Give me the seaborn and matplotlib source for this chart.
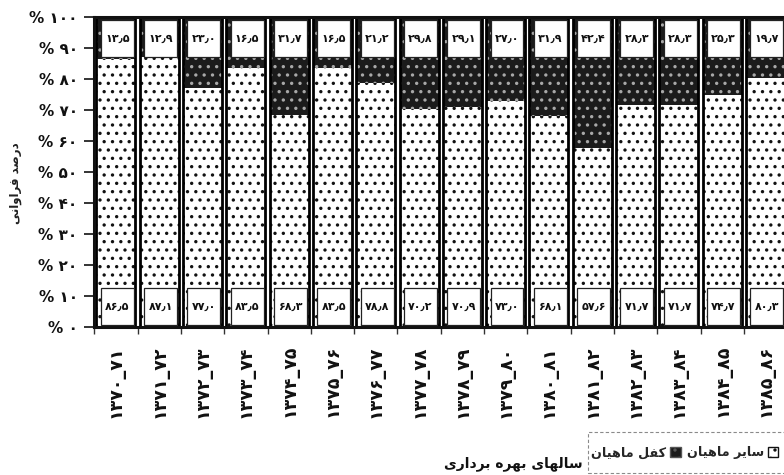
import matplotlib
matplotlib.use("Agg")
import matplotlib.pyplot as plt
from matplotlib.patches import Rectangle, Patch
from matplotlib.ticker import FixedLocator
import numpy as np
import pandas as pd
import seaborn as sns

# Harvest seasons (Persian calendar) and catch composition in percent
seasons = ["1370_71", "1371_72", "1372_73", "1373_74", "1374_75", "1375_76",
           "1376_77", "1377_78", "1378_79", "1379_80", "1380_81", "1381_82",
           "1382_83", "1383_84", "1384_85", "1385_86"]
other_fish = [86.5, 87.1, 77.0, 83.5, 68.3, 83.5, 78.8, 70.2,
              70.9, 73.0, 68.1, 57.6, 71.7, 71.7, 74.7, 80.3]
mullet = [13.5, 12.9, 23.0, 16.5, 31.7, 16.5, 21.2, 29.8,
          29.1, 27.0, 31.9, 42.4, 28.3, 28.3, 25.3, 19.7]
y_ticks = [0, 10, 20, 30, 40, 50, 60, 70, 80, 90, 100]

# --- Persian text helpers -------------------------------------------------
FA_DIGITS = str.maketrans("0123456789.", "۰۱۲۳۴۵۶۷۸۹٫")

# isolated, final, initial, medial presentation forms
FORMS = {
    "ا": ("\uFE8D", "\uFE8E", None, None),
    "ب": ("\uFE8F", "\uFE90", "\uFE91", "\uFE92"),
    "د": ("\uFEA9", "\uFEAA", None, None),
    "ر": ("\uFEAD", "\uFEAE", None, None),
    "س": ("\uFEB1", "\uFEB2", "\uFEB3", "\uFEB4"),
    "ص": ("\uFEB9", "\uFEBA", "\uFEBB", "\uFEBC"),
    "ف": ("\uFED1", "\uFED2", "\uFED3", "\uFED4"),
    "ک": ("\uFED9", "\uFEDA", "\uFEDB", "\uFEDC"),
    "ل": ("\uFEDD", "\uFEDE", "\uFEDF", "\uFEE0"),
    "م": ("\uFEE1", "\uFEE2", "\uFEE3", "\uFEE4"),
    "ن": ("\uFEE5", "\uFEE6", "\uFEE7", "\uFEE8"),
    "ه": ("\uFEE9", "\uFEEA", "\uFEEB", "\uFEEC"),
    "و": ("\uFEED", "\uFEEE", None, None),
    "ی": ("\uFEEF", "\uFEF0", "\uFEF3", "\uFEF4"),
}


def fa(text):
    """Join Persian letters into contextual forms and return them in visual order."""
    out = []
    for i, c in enumerate(text):
        if c not in FORMS:
            out.append(c)
            continue
        prev = text[i - 1] if i > 0 else ""
        nxt = text[i + 1] if i + 1 < len(text) else ""
        join_prev = prev in FORMS and FORMS[prev][2] is not None
        join_next = FORMS[c][2] is not None and nxt in FORMS
        iso, fin, ini, med = FORMS[c]
        if join_prev and join_next:
            out.append(med)
        elif join_prev:
            out.append(fin)
        elif join_next:
            out.append(ini)
        else:
            out.append(iso)
    return "".join(reversed(out))


def fa_num(s):
    return str(s).translate(FA_DIGITS)


# --- data frame -----------------------------------------------------------
df = pd.DataFrame({
    "season": [fa_num(s) for s in seasons],
    "other": other_fish,
    "mullet": mullet,
})
df["total"] = df["other"] + df["mullet"]

sns.set_theme(style="white")
plt.rcParams["font.family"] = ["DejaVu Sans"]
plt.rcParams["font.weight"] = "bold"
plt.rcParams["hatch.linewidth"] = 1.2

fig = plt.figure(figsize=(7.84, 4.75), dpi=100)
fig.patch.set_facecolor("white")
ax = fig.add_axes([0.1203, 0.3116, 0.8837, 0.6526])
ax.set_facecolor("white")

bar_w = 0.9
# mullet share: dark segment filling up to the total
sns.barplot(data=df, x="season", y="total", color="#1b1b1b", saturation=1,
            edgecolor="#a8a8a8", linewidth=0, hatch="..", width=bar_w,
            errorbar=None, ax=ax)
# other fish share: light dotted segment from the base
sns.barplot(data=df, x="season", y="other", color="white", saturation=1,
            edgecolor="#111111", linewidth=0, hatch="..", width=bar_w,
            errorbar=None, ax=ax)
# bar outlines
sns.barplot(data=df, x="season", y="total", color="black", fill=False,
            linewidth=2.0, width=bar_w, errorbar=None, ax=ax)

# value boxes
box_w = 0.76
for i, (o, m) in enumerate(zip(df["other"], df["mullet"])):
    for y0, val in ((0.6, o), (87.0, m)):
        ax.add_patch(Rectangle((i - box_w / 2 + 0.03, y0), box_w, 12.0,
                               facecolor="white", edgecolor="#222222",
                               linewidth=0.9, zorder=5))
        ax.text(i + 0.03, y0 + 6.0, fa_num(f"{val:.1f}"), ha="center",
                va="center", fontsize=8, fontweight="bold", color="#111111",
                zorder=6)

n = len(df)
ax.set_xlim(-0.5, n - 0.5)
ax.set_ylim(0, 100)

ax.set_yticks(y_ticks)
ax.set_yticklabels(["% " + fa_num(t) for t in y_ticks], fontsize=11,
                   fontweight="bold", color="#111111")
ax.tick_params(axis="y", direction="out", length=7, width=1.2, pad=5,
               left=True, colors="#111111")

ax.xaxis.set_minor_locator(FixedLocator(np.arange(-0.5, n, 1.0)))
ax.tick_params(axis="x", which="major", length=0, pad=13)
ax.tick_params(axis="x", which="minor", direction="out", length=5, width=1,
               bottom=True, color="#333333")
for lab in ax.get_xticklabels():
    lab.set_rotation(90)
    lab.set_fontsize(12.5)
    lab.set_fontweight("bold")
    lab.set_color("#111111")
    lab.set_va("top")
    lab.set_ha("center")

ax.set_xlabel("")
ax.set_ylabel("")
for side in ("left", "bottom", "top"):
    ax.spines[side].set_visible(True)
    ax.spines[side].set_color("#111111")
    ax.spines[side].set_linewidth(2.2)
ax.spines["right"].set_visible(False)

fig.text(0.02, 0.615, fa("درصد فراوانی"), rotation=90, ha="center",
         va="center", fontsize=8.5, fontweight="bold", color="#222222")
fig.text(0.743, 0.024, fa("سالهای بهره برداری"), ha="right", va="center",
         fontsize=10, fontweight="bold", color="#111111")

# legend: dashed box running off the right edge, entries centred inside
fig.add_artist(Rectangle((0.75, 0.004), 0.27, 0.087,
                         transform=fig.transFigure, facecolor="white",
                         edgecolor="#8a8a8a", linewidth=0.8,
                         linestyle=(0, (3, 2)), zorder=3))
handles = [
    Patch(facecolor="#1b1b1b", edgecolor="#555555", hatch="..",
          label=fa("کفل ماهیان")),
    Patch(facecolor="white", edgecolor="#111111", hatch="..",
          label=fa("سایر ماهیان")),
]
leg = fig.legend(handles=handles, loc="center left",
                 bbox_to_anchor=(0.751, 0.047), bbox_transform=fig.transFigure,
                 ncol=2, markerfirst=False, frameon=False,
                 handlelength=0.8, handleheight=0.8, handletextpad=0.3,
                 columnspacing=0.5, borderpad=0.2, borderaxespad=0,
                 fontsize=9.2)
leg.set_zorder(4)
for t in leg.get_texts():
    t.set_fontweight("bold")

fig.savefig("out.png", dpi=100, facecolor="white")
